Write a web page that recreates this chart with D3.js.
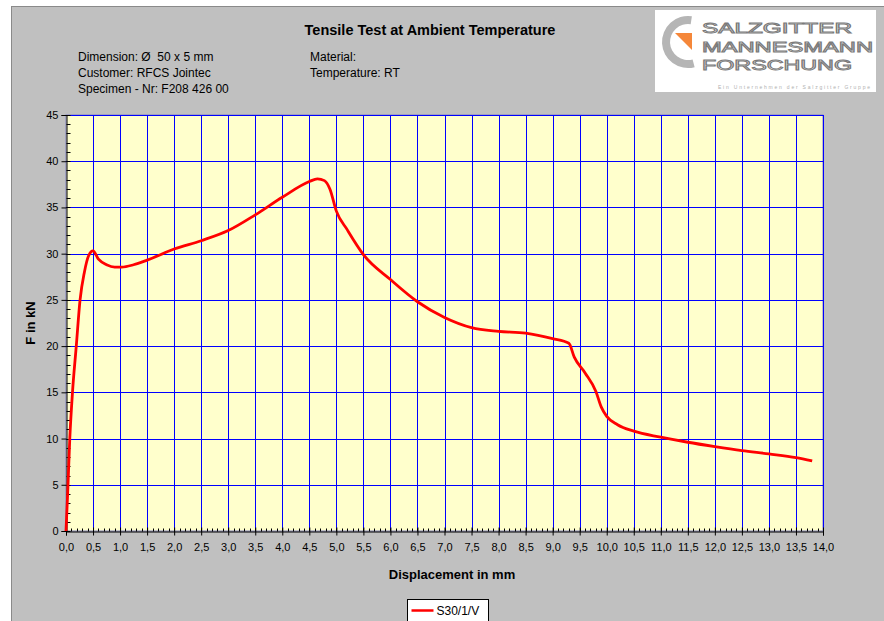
<!DOCTYPE html>
<html>
<head>
<meta charset="utf-8">
<script src="https://cdn.jsdelivr.net/npm/d3@7"></script>
<style>
  body { margin: 0; background: #fff; }
  svg { display: block; font-family: "Liberation Sans", Arial, sans-serif; }
  text { white-space: pre; }
</style>
</head>
<body>
<div id="chart"></div>
<script>
// Curve: displacement (mm) and force (kN)
const displacement = [0, 0.03, 0.07, 0.12, 0.19, 0.26, 0.34, 0.42, 0.5, 0.6, 0.75, 0.9, 1.03, 1.25, 1.5, 2.0, 2.5, 3.0, 3.5, 4.0, 4.5, 4.65, 4.78, 4.88, 5.0, 5.2, 5.5, 6.0, 6.5, 7.0, 7.5, 8.0, 8.5, 9.0, 9.3, 9.4, 9.6, 9.8, 9.9, 10.0, 10.2, 10.5, 11.0, 11.5, 12.0, 12.5, 13.0, 13.5, 13.8];
const force = [0, 4, 10, 15, 20, 25, 28, 29.8, 30.3, 29.4, 28.8, 28.55, 28.55, 28.8, 29.3, 30.5, 31.4, 32.5, 34.2, 36.1, 37.8, 38.1, 37.9, 37.0, 34.6, 32.6, 29.9, 27.2, 24.8, 23.1, 22.0, 21.6, 21.4, 20.8, 20.3, 18.8, 17.1, 15.1, 13.4, 12.4, 11.5, 10.8, 10.15, 9.6, 9.13, 8.7, 8.34, 7.94, 7.58];
const seriesName = "S30/1/V";

const xTicks = d3.range(0, 14.01, 0.5);
const yTicks = d3.range(0, 45.01, 5);

const infoLeft = ["Dimension: Ø  50 x 5 mm", "Customer: RFCS Jointec", "Specimen - Nr: F208 426 00"];
const infoRight = ["Material:", "Temperature: RT"];
const logoLines = ["SALZGITTER", "MANNESMANN", "FORSCHUNG"];

const width = 884, height = 621;
const margin = { top: 115, right: 61, bottom: 90, left: 66 };

const svg = d3.select("#chart").append("svg")
    .attr("width", width)
    .attr("height", height);

// outer grey chart area
svg.append("rect")
    .attr("x", 11.5).attr("y", 6.5)
    .attr("width", width).attr("height", height)
    .attr("fill", "#c0c0c0")
    .attr("stroke", "#8a8a8a");

const x = d3.scaleLinear().domain([0, 14]).range([margin.left, width - margin.right]);
const y = d3.scaleLinear().domain([0, 45]).range([height - margin.bottom, margin.top]);

// plot background
svg.append("rect")
    .attr("x", x(0)).attr("y", y(45))
    .attr("width", x(14) - x(0)).attr("height", y(0) - y(45))
    .attr("fill", "#ffffcc")
    .attr("stroke", "#8080c0");

// grid lines
svg.append("g").selectAll("line")
    .data(xTicks.slice(1))
    .enter().append("line")
    .attr("x1", d => Math.round(x(d)) + 0.5).attr("x2", d => Math.round(x(d)) + 0.5)
    .attr("y1", y(45)).attr("y2", y(0))
    .attr("stroke", "#0000ff");

svg.append("g").selectAll("line")
    .data(yTicks.slice(1))
    .enter().append("line")
    .attr("x1", x(0)).attr("x2", x(14))
    .attr("y1", d => Math.round(y(d)) + 0.5).attr("y2", d => Math.round(y(d)) + 0.5)
    .attr("stroke", "#0000ff");

// axes
const xAxis = d3.axisBottom(x)
    .tickValues(xTicks)
    .tickSize(4)
    .tickFormat(d => d3.format(".1f")(d).replace(".", ","));

const gx = svg.append("g")
    .attr("transform", `translate(0,${Math.round(y(0)) + 0.5})`)
    .call(xAxis);
gx.select(".domain").attr("stroke", "#000");
gx.selectAll("text").attr("font-size", 11).attr("fill", "#000").attr("dy", "1.1em");

// minor x ticks, pointing inside
gx.append("g").selectAll("line")
    .data(d3.range(0, 14.001, 0.1))
    .enter().append("line")
    .attr("x1", d => Math.round(x(d)) + 0.5).attr("x2", d => Math.round(x(d)) + 0.5)
    .attr("y1", 0).attr("y2", -3)
    .attr("stroke", "#000");
gx.selectAll(".tick line").attr("y1", -4).attr("y2", 4);

const yAxis = d3.axisLeft(y)
    .tickValues(yTicks)
    .tickSize(5);

const gy = svg.append("g")
    .attr("transform", `translate(${Math.round(x(0)) + 0.5},0)`)
    .call(yAxis);
gy.select(".domain").attr("stroke", "#000");
gy.selectAll("text").attr("font-size", 11).attr("fill", "#000");

// minor y ticks, pointing inside
gy.append("g").selectAll("line")
    .data(d3.range(0, 45.001, 1))
    .enter().append("line")
    .attr("y1", d => Math.round(y(d)) + 0.5).attr("y2", d => Math.round(y(d)) + 0.5)
    .attr("x1", 0).attr("x2", 4)
    .attr("stroke", "#000");

// the curve
const line = d3.line()
    .x(d => x(d[0]))
    .y(d => y(d[1]))
    .curve(d3.curveMonotoneX);

svg.append("path")
    .datum(d3.zip(displacement, force))
    .attr("d", line)
    .attr("fill", "none")
    .attr("stroke", "#ff0000")
    .attr("stroke-width", 2.8)
    .attr("stroke-linejoin", "round");

// titles
svg.append("text")
    .attr("x", 430).attr("y", 35)
    .attr("text-anchor", "middle")
    .attr("font-size", 14.5).attr("font-weight", "bold")
    .text("Tensile Test at Ambient Temperature");

svg.append("g").selectAll("text")
    .data(infoLeft)
    .enter().append("text")
    .attr("x", 78).attr("y", (d, i) => 61 + i * 16)
    .attr("font-size", 12)
    .text(d => d);

svg.append("g").selectAll("text")
    .data(infoRight)
    .enter().append("text")
    .attr("x", 310).attr("y", (d, i) => 61 + i * 16)
    .attr("font-size", 12)
    .text(d => d);

svg.append("text")
    .attr("x", 452).attr("y", 579)
    .attr("text-anchor", "middle")
    .attr("font-size", 13).attr("font-weight", "bold")
    .text("Displacement in mm");

svg.append("text")
    .attr("transform", `translate(35,${(y(0) + y(45)) / 2}) rotate(-90)`)
    .attr("text-anchor", "middle")
    .attr("font-size", 13).attr("font-weight", "bold")
    .text("F in kN");

// legend
const legend = svg.append("g").attr("transform", "translate(407.5,599.5)");
legend.append("rect")
    .attr("width", 81).attr("height", 26)
    .attr("fill", "#fff").attr("stroke", "#000");
legend.append("line")
    .attr("x1", 4).attr("x2", 26).attr("y1", 11).attr("y2", 11)
    .attr("stroke", "#ff0000").attr("stroke-width", 2.5);
legend.append("text")
    .attr("x", 29).attr("y", 15)
    .attr("font-size", 12)
    .text(seriesName);

// logo
const logo = svg.append("g");
logo.append("rect")
    .attr("x", 655).attr("y", 10)
    .attr("width", 221).attr("height", 82)
    .attr("fill", "#fff");
logo.append("path")
    .attr("d", d3.arc()({ innerRadius: 18, outerRadius: 26, startAngle: 0.15, endAngle: -3.4 }))
    .attr("transform", "translate(688,42)")
    .attr("fill", "#b5b5b5");
logo.append("path")
    .attr("d", "M675,33 L692,33 L692,50 Z")
    .attr("fill", "#f5873a");
logo.append("g").selectAll("text")
    .data(logoLines)
    .enter().append("text")
    .attr("x", 702).attr("y", (d, i) => [33, 52, 70][i])
    .attr("font-size", 14)
    .attr("textLength", (d, i) => [150, 171, 150][i])
    .attr("lengthAdjust", "spacingAndGlyphs")
    .attr("fill", "#fff").attr("stroke", "#7a7a7a").attr("stroke-width", 0.9)
    .text(d => d);
logo.append("text")
    .attr("x", 718).attr("y", 89)
    .attr("font-size", 5)
    .attr("fill", "#b0b0b0")
    .attr("textLength", 152)
    .text("Ein Unternehmen der Salzgitter Gruppe");
</script>
</body>
</html>
